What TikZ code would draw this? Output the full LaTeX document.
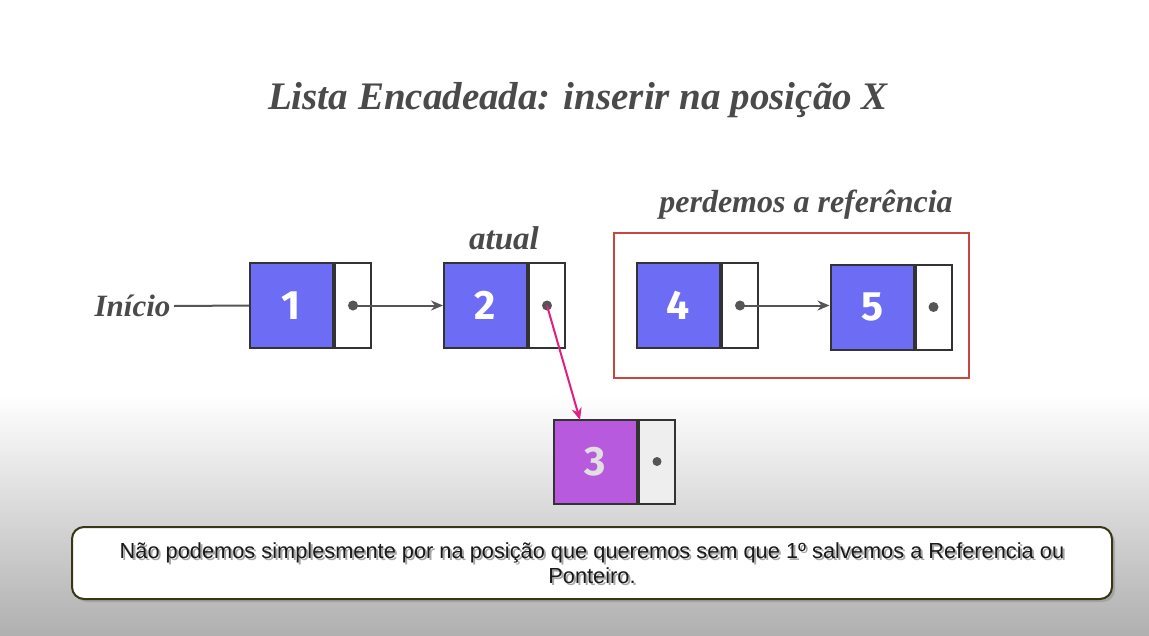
\documentclass[tikz,border=0pt]{standalone}
\usepackage{fontspec}
\setmainfont{Liberation Serif}
\newfontfamily\digitfont{Fira Sans}
\newfontfamily\arialfont{Liberation Sans}
\usetikzlibrary{arrows.meta,shadows}
\definecolor{nodeblue}{RGB}{108,108,245}
\definecolor{nodepurple}{RGB}{183,90,222}
\definecolor{ptrgray}{RGB}{238,238,238}
\definecolor{inkgray}{RGB}{74,74,74}
\definecolor{linegray}{RGB}{85,85,85}
\definecolor{boxred}{RGB}{200,70,60}
\definecolor{pinkarrow}{RGB}{225,30,130}
\definecolor{olive}{RGB}{55,55,20}
\tikzset{
  datacell/.style={draw=black!80,line width=2pt,fill=nodeblue,minimum width=83pt,minimum height=85pt,inner sep=0pt,text=white,font=\digitfont\bfseries\fontsize{41}{41}\selectfont},
  ptrcell/.style={draw=black!80,line width=2pt,fill=white,minimum width=36pt,minimum height=85pt,inner sep=0pt},
  dotmark/.style={circle,fill=linegray,inner sep=0pt,minimum size=10pt},
  link/.style={draw=linegray,line width=2pt,-{Stealth[length=12pt,width=10pt]}},
  label/.style={text=inkgray,font=\bfseries\itshape\fontsize{32}{32}\selectfont}
}
\begin{document}
\begin{tikzpicture}[x=1pt,y=-1pt]
\useasboundingbox (0,0) rectangle (1149,635);
\fill[white] (0,0) rectangle (1149,396);
\shade[top color=white,bottom color=black!31] (0,395) rectangle (1149,635);

% title
\node[text=inkgray,font=\bfseries\itshape\fontsize{39}{39}\selectfont] (title) at (578,100) {Lista Encadeada: inserir na posição X};

% node 1
\node[datacell] (d1) at (291.5,305.5) {1};
\node[ptrcell,anchor=west] (p1) at (d1.east) {};
\node[dotmark] (c1) at (p1.center) {};
% node 2
\node[datacell] (d2) at (485.5,305.5) {2};
\node[ptrcell,anchor=west] (p2) at (d2.east) {};
\node[dotmark] (c2) at (p2.center) {};
% node 4
\node[datacell] (d4) at (678.5,305.5) {4};
\node[ptrcell,anchor=west] (p4) at (d4.east) {};
\node[dotmark] (c4) at (p4.center) {};
% node 5
\node[datacell] (d5) at (872,307) {5};
\node[ptrcell,anchor=west] (p5) at (d5.east) {};
\node[dotmark] (c5) at (p5.center) {};
% node 3
\node[datacell,fill=nodepurple,text=white!88!black,minimum height=84pt] (d3) at (595.5,461.5) {3};
\node[ptrcell,anchor=west,fill=ptrgray,minimum height=84pt] (p3) at (d3.east) {};
\node[dotmark,minimum size=9pt] (c3) at (p3.center) {};

% labels
\node[label,anchor=east,font=\bfseries\itshape\fontsize{31}{31}\selectfont] (inicio) at (174,306) {Início};
\node[label,font=\bfseries\itshape\fontsize{33}{33}\selectfont] (atual) at (504,238) {atual};
\node[label] (perd) at (806,205) {perdemos a referência};

% red box
\node[draw=boxred,line width=1.4pt,minimum width=355pt,minimum height=145pt,inner sep=0pt] (redbox) at (791.5,305.5) {};

% connectors
\draw[draw=linegray,line width=2pt] (inicio.east) -- (d1.west);
\draw[link] (c1.center) -- (d2.west);
\draw[link] (c4.center) -- (d5.west |- c4.center);
\coordinate (t3) at (580,420);
\draw[draw=pinkarrow,line width=2pt,-{Stealth[length=12pt,width=10pt]}] (c2.center) -- (t3);

% bottom message box
\node[draw=olive,line width=2pt,fill=white,rounded corners=12pt,minimum width=1040pt,minimum height=72pt,
  drop shadow={shadow xshift=3pt,shadow yshift=-3pt,fill=black!45}] (msg) at (592,563) {};
\node[align=center,font=\arialfont\fontsize{21.8}{25}\selectfont,text=black!35] (msgshadow) at (594,565)
  {Não podemos simplesmente por na posição que queremos sem que 1º salvemos a Referencia ou\\Ponteiro.};
\node[align=center,font=\arialfont\fontsize{21.8}{25}\selectfont,text=black!90] (msgtext) at (msg.center)
  {Não podemos simplesmente por na posição que queremos sem que 1º salvemos a Referencia ou\\Ponteiro.};
\end{tikzpicture}
\end{document}
